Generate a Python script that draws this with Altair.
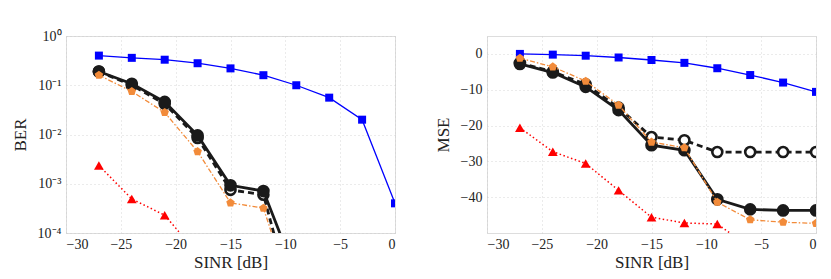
import altair as alt
import pandas as pd

# ---- data ----
sinr = [-27, -24, -21, -18, -15, -12, -9, -6, -3, 0]

ber_blue = [0.40, 0.36, 0.33, 0.28, 0.22, 0.16, 0.10, 0.056, 0.020, 4.0e-4]
ber_black = [0.19, 0.107, 0.046, 0.0096, 9.3e-4, 7.1e-4, 1.4e-5]
ber_black_dash = [0.19, 0.10, 0.042, 0.0085, 7.5e-4, 6.0e-4, 2e-6]
ber_orange = [0.16, 0.075, 0.028, 0.0045, 4.1e-4, 3.2e-4, 3e-6]
ber_red = [2.35e-3, 4.9e-4, 2.3e-4, 3.8e-5]

mse_blue = [0, -0.2, -0.5, -1.0, -1.7, -2.5, -4.0, -5.9, -8.0, -10.6]
mse_black = [-2.8, -5.2, -9.2, -15.7, -25.5, -26.9, -40.6, -43.4, -43.7, -43.7]
mse_black_dash = [-2.5, -5.0, -8.5, -15.0, -23.2, -24.1, -27.4, -27.4, -27.4, -27.4]
mse_orange = [-1.2, -3.6, -7.6, -14.3, -24.6, -26.2, -41.4, -46.3, -47.0, -47.3]
mse_red = [-20.6, -27.3, -30.6, -38.1, -45.6, -47.2, -47.5, -54.0]

x_ticks = [-30, -25, -20, -15, -10, -5, 0]
ber_ticks = [1e-4, 1e-3, 1e-2, 1e-1, 1]
mse_ticks = [0, -10, -20, -30, -40]

FONT = "Liberation Serif"
PENTAGON = "M0,-1L0.951,-0.309L0.588,0.809L-0.588,0.809L-0.951,-0.309Z"

STYLES = {
    "blue": dict(color="#0000ff", width=1.3, dash=None, shape="square", size=64, fill="#0000ff", mstroke=None),
    "black_dash": dict(color="#1a1a1a", width=2.8, dash=[6, 4], shape="circle", size=100, fill="white", mstroke=2.6),
    "black": dict(color="#1a1a1a", width=2.8, dash=None, shape="circle", size=160, fill="#1a1a1a", mstroke=None),
    "orange": dict(color="#f28b3a", width=1.3, dash=[5, 2, 1.5, 2], shape=PENTAGON, size=80, fill="#f28b3a", mstroke=None),
    "red": dict(color="#ff0000", width=1.5, dash=[1.5, 2.5], shape="triangle-up", size=95, fill="#ff0000", mstroke=None),
}


def series_layers(name, ys, xscale, yscale):
    st = STYLES[name]
    df = pd.DataFrame({"x": sinr[: len(ys)], "y": ys})
    base = alt.Chart(df)
    line_kw = dict(color=st["color"], strokeWidth=st["width"], clip=True)
    if st["dash"]:
        line_kw["strokeDash"] = st["dash"]
    line = base.mark_line(**line_kw).encode(
        x=alt.X("x:Q", scale=xscale), y=alt.Y("y:Q", scale=yscale)
    )
    pt_kw = dict(shape=st["shape"], size=st["size"], fill=st["fill"], filled=True, opacity=1, clip=True)
    if st["mstroke"]:
        pt_kw.update(stroke=st["color"], strokeWidth=st["mstroke"])
    else:
        pt_kw.update(strokeWidth=0)
    pts = base.mark_point(**pt_kw).encode(
        x=alt.X("x:Q", scale=xscale), y=alt.Y("y:Q", scale=yscale)
    )
    return [line, pts]


axis_common = dict(
    labelFont=FONT, titleFont=FONT, labelFontSize=14, titleFontSize=17,
    titleFontWeight="normal", labelColor="#222", titleColor="#222",
    grid=True, gridColor="#cccccc", gridDash=[1, 3], gridWidth=0.8,
    domain=False, ticks=False,
)

xscale = alt.Scale(domain=[-30, 0], nice=False, zero=False)
xaxis = alt.Axis(values=x_ticks, title="SINR [dB]", labelPadding=4, titlePadding=3, **axis_common)

# left: BER
yscale_l = alt.Scale(type="log", domain=[1e-4, 1], nice=False)
ylab = ("datum.value >= 0.5 ? '10⁰' : datum.value >= 0.05 ? '10⁻¹' : "
        "datum.value >= 0.005 ? '10⁻²' : datum.value >= 0.0005 ? '10⁻³' : '10⁻⁴'")
yaxis_l = alt.Axis(values=ber_ticks, title="BER", labelExpr=ylab, labelPadding=5,
                   titlePadding=8, **axis_common)

layers_l = []
for name, ys in [("blue", ber_blue), ("black_dash", ber_black_dash), ("black", ber_black),
                 ("orange", ber_orange), ("red", ber_red)]:
    layers_l += series_layers(name, ys, xscale, yscale_l)
layers_l[0] = layers_l[0].encode(
    x=alt.X("x:Q", scale=xscale, axis=xaxis),
    y=alt.Y("y:Q", scale=yscale_l, axis=yaxis_l),
)
left = alt.layer(*layers_l).properties(width=329, height=197)

# right: MSE
yscale_r = alt.Scale(domain=[-50, 5], nice=False, zero=False)
yaxis_r = alt.Axis(values=mse_ticks, title="MSE", labelPadding=5, titlePadding=8, **axis_common)
layers_r = []
for name, ys in [("blue", mse_blue), ("black_dash", mse_black_dash), ("black", mse_black),
                 ("orange", mse_orange), ("red", mse_red)]:
    layers_r += series_layers(name, ys, xscale, yscale_r)
layers_r[0] = layers_r[0].encode(
    x=alt.X("x:Q", scale=xscale, axis=xaxis),
    y=alt.Y("y:Q", scale=yscale_r, axis=yaxis_r),
)
right = alt.layer(*layers_r).properties(width=329, height=197)

chart = alt.hconcat(left, right, spacing=37).properties(
    padding={"left": 2, "top": 20, "right": 5, "bottom": 5}
).configure_view(stroke="#444444", strokeWidth=1).configure_axis(
    labelFont=FONT, titleFont=FONT
).configure(background="white")

chart.save("out.html", embed_options={"renderer": "svg", "actions": False})
